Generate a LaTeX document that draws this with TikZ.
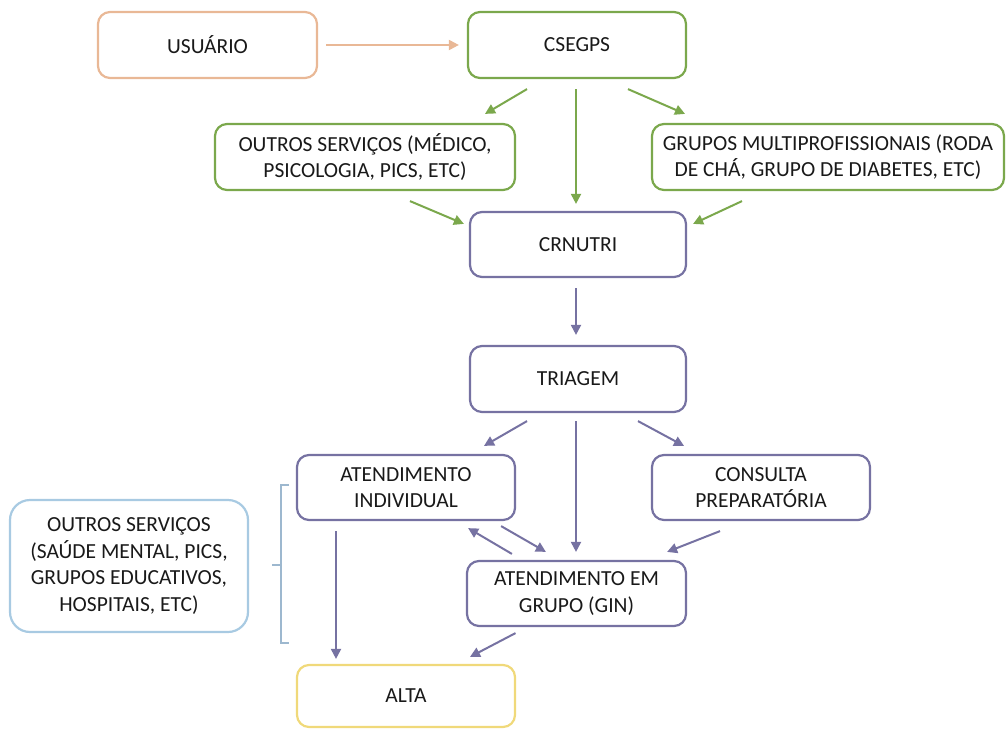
\documentclass[tikz,border=0pt]{standalone}
\usepackage{fontspec}
\setmainfont{Carlito}
\usetikzlibrary{arrows.meta,calc}
\definecolor{corange}{HTML}{E9B896}
\definecolor{cgreen}{HTML}{7BA84C}
\definecolor{cpurple}{HTML}{7672A2}
\definecolor{cyellow}{HTML}{F0D97A}
\definecolor{cblue}{HTML}{A8CAE2}
\definecolor{cbrack}{HTML}{9DB8CF}
\begin{document}
\begin{tikzpicture}[x=1pt,y=1pt,
  box/.style={draw, line width=2.2pt, rounded corners=12pt, align=center,
    inner sep=0pt, font=\fontsize{21.5}{26.5}\selectfont, text=black!90},
  arr/.style={line width=2pt, -{Triangle[length=10pt,width=10pt]}},
  garr/.style={arr, draw=cgreen},
  parr/.style={arr, draw=cpurple},
  oarr/.style={arr, draw=corange}]
\useasboundingbox (0,0) rectangle (1006,-728);
% nodes
\node[box, draw=corange, minimum width=219pt, minimum height=66pt] (us) at (207.5,-45) {USUÁRIO};
\node[box, draw=cgreen, minimum width=218pt, minimum height=66pt] (cs) at (577,-45) {CSEGPS};
\node[box, draw=cgreen, minimum width=300pt, minimum height=66pt] (os) at (365,-157) {OUTROS SERVIÇOS (MÉDICO,\\PSICOLOGIA, PICS, ETC)};
\node[box, draw=cgreen, minimum width=352pt, minimum height=66pt] (gm) at (828,-157) {GRUPOS MULTIPROFISSIONAIS (RODA\\DE CHÁ, GRUPO DE DIABETES, ETC)};
\node[box, draw=cpurple, minimum width=216pt, minimum height=65pt] (crn) at (578,-244.5) {CRNUTRI};
\node[box, draw=cpurple, minimum width=216pt, minimum height=66pt] (tri) at (578,-379) {TRIAGEM};
\node[box, draw=cpurple, minimum width=218pt, minimum height=65pt] (ind) at (406,-487.5) {ATENDIMENTO\\INDIVIDUAL};
\node[box, draw=cpurple, minimum width=218pt, minimum height=65pt] (cons) at (761,-487.5) {CONSULTA\\PREPARATÓRIA};
\node[box, draw=cpurple, minimum width=219pt, minimum height=65pt] (grp) at (576.5,-593.5) {ATENDIMENTO EM\\GRUPO (GIN)};
\node[box, draw=cyellow, minimum width=218pt, minimum height=62pt] (alta) at (406,-696) {ALTA};
\node[box, draw=cblue, minimum width=238pt, minimum height=132pt, rounded corners=20pt] (oss) at (129,-566) {OUTROS SERVIÇOS\\(SAÚDE MENTAL, PICS,\\GRUPOS EDUCATIVOS,\\HOSPITAIS, ETC)};
% bracket
\coordinate (bt) at (289,-485);
\coordinate (bb) at (289,-643);
\draw[cbrack, line width=1.5pt] (bt) -- ++(-8,0) |- (bb);
\draw[cbrack, line width=1.5pt] (281,-565) -- ++(-9,0);
% connectors
\draw[oarr] ($(us.east)+(8,0)$) -- ($(cs.west)+(-8,0)$);
\draw[garr] ($(cs.south)+(-50,-10)$) -- ($(os.north)+(120,9)$);
\draw[garr] ($(cs.south)+(-1,-10)$) -- ($(crn.north)+(-2,7)$);
\draw[garr] ($(cs.south)+(51,-10)$) -- ($(gm.north)+(-143,9)$);
\draw[garr] ($(os.south)+(45,-10)$) -- ($(crn.north west)+(-5,-13)$);
\draw[garr] ($(gm.south)+(-86,-10)$) -- ($(crn.north east)+(6,-13)$);
\draw[parr] ($(crn.south)+(-2,-10)$) -- ($(tri.north)+(-2,10)$);
\draw[parr] ($(tri.south)+(-51,-8)$) -- ($(ind.north)+(78,8)$);
\draw[parr] ($(tri.south)+(-2,-8)$) -- ($(grp.north)+(-0.5,8)$);
\draw[parr] ($(tri.south)+(60,-8)$) -- ($(cons.north)+(-77,8)$);
\draw[parr] ($(ind.south east)+(-15,-5)$) -- ($(grp.north west)+(80,8)$);
\draw[parr] ($(grp.north west)+(46,6)$) -- ($(ind.south east)+(-48,-7)$);
\draw[parr] ($(cons.south)+(-41,-10)$) -- ($(grp.north east)+(-20,8)$);
\draw[parr] ($(grp.south)+(-61,-6)$) -- ($(alta.north)+(64,7)$);
\draw[parr] ($(ind.south)+(-70,-10)$) -- ($(alta.north)+(-70,5)$);
\end{tikzpicture}
\end{document}
